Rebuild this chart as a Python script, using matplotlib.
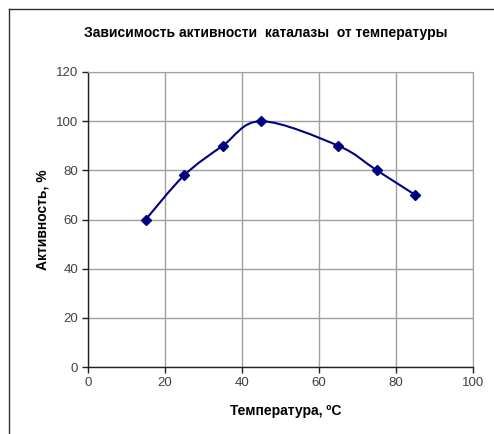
import matplotlib
matplotlib.use("Agg")
import matplotlib.pyplot as plt
from matplotlib.path import Path
from matplotlib.patches import PathPatch
from matplotlib.lines import Line2D

temperature = [15, 25, 35, 45, 65, 75, 85]
activity = [60, 78, 90, 100, 90, 80, 70]
x_ticks = [0, 20, 40, 60, 80, 100]
y_ticks = [0, 20, 40, 60, 80, 100, 120]

title = "Зависимость активности  каталазы  от температуры"
xlabel = "Температура, ºС"
ylabel = "Активность, %"

W, H = 494, 434
fig = plt.figure(figsize=(W / 100, H / 100), dpi=100)
fig.patch.set_facecolor("white")

left, right, top, bottom = 88, 473, 72, 367
ax = fig.add_axes([left / W, 1 - bottom / H, (right - left) / W, (bottom - top) / H])
ax.set_xlim(0, 100)
ax.set_ylim(0, 120)
ax.set_xticks(x_ticks)
ax.set_yticks(y_ticks)
ax.grid(True, color="#a0a0a0", linewidth=1)
ax.set_axisbelow(True)
for s in ["top", "right"]:
    ax.spines[s].set_color("#a0a0a0")
for s in ["left", "bottom"]:
    ax.spines[s].set_color("#202020")
    ax.spines[s].set_linewidth(1)
ax.tick_params(direction="out", length=4, width=1, color="#202020",
               labelsize=9.5, labelcolor="#404040", pad=3)
for lab in ax.get_xticklabels() + ax.get_yticklabels():
    lab.set_fontfamily("Liberation Sans")

# Excel-style smooth curve (Catmull-Rom -> cubic Bezier)
pts = list(zip(temperature, activity))
verts = [pts[0]]
codes = [Path.MOVETO]
n = len(pts)
for i in range(n - 1):
    p0 = pts[i - 1] if i > 0 else pts[i]
    p1 = pts[i]
    p2 = pts[i + 1]
    p3 = pts[i + 2] if i + 2 < n else pts[i + 1]
    c1 = (p1[0] + (p2[0] - p0[0]) / 6, p1[1] + (p2[1] - p0[1]) / 6)
    c2 = (p2[0] - (p3[0] - p1[0]) / 6, p2[1] - (p3[1] - p1[1]) / 6)
    verts += [c1, c2, p2]
    codes += [Path.CURVE4] * 3
ax.add_patch(PathPatch(Path(verts, codes), facecolor="none",
                       edgecolor="#000080", linewidth=1.5, zorder=3))
ax.plot(temperature, activity, linestyle="none", marker="D", markersize=5,
        color="#000080", zorder=4)

fig.text(266 / W, 1 - 33 / H, title, ha="center", va="center",
         fontsize=10, fontweight="bold", family="Liberation Sans")
fig.text(286 / W, 1 - 411 / H, xlabel, ha="center", va="center",
         fontsize=10, fontweight="bold", family="Liberation Sans")
fig.text(42 / W, 1 - (top + bottom) / 2 / H, ylabel, ha="center", va="center",
         rotation=90, fontsize=10, fontweight="bold", family="Liberation Sans")

# figure border (top and left)
fig.add_artist(Line2D([9 / W, 1], [1 - 9 / H, 1 - 9 / H], color="#303030", linewidth=1))
fig.add_artist(Line2D([9 / W, 9 / W], [0, 1 - 9 / H], color="#303030", linewidth=1))

fig.savefig("out.png", dpi=100, facecolor="white")
